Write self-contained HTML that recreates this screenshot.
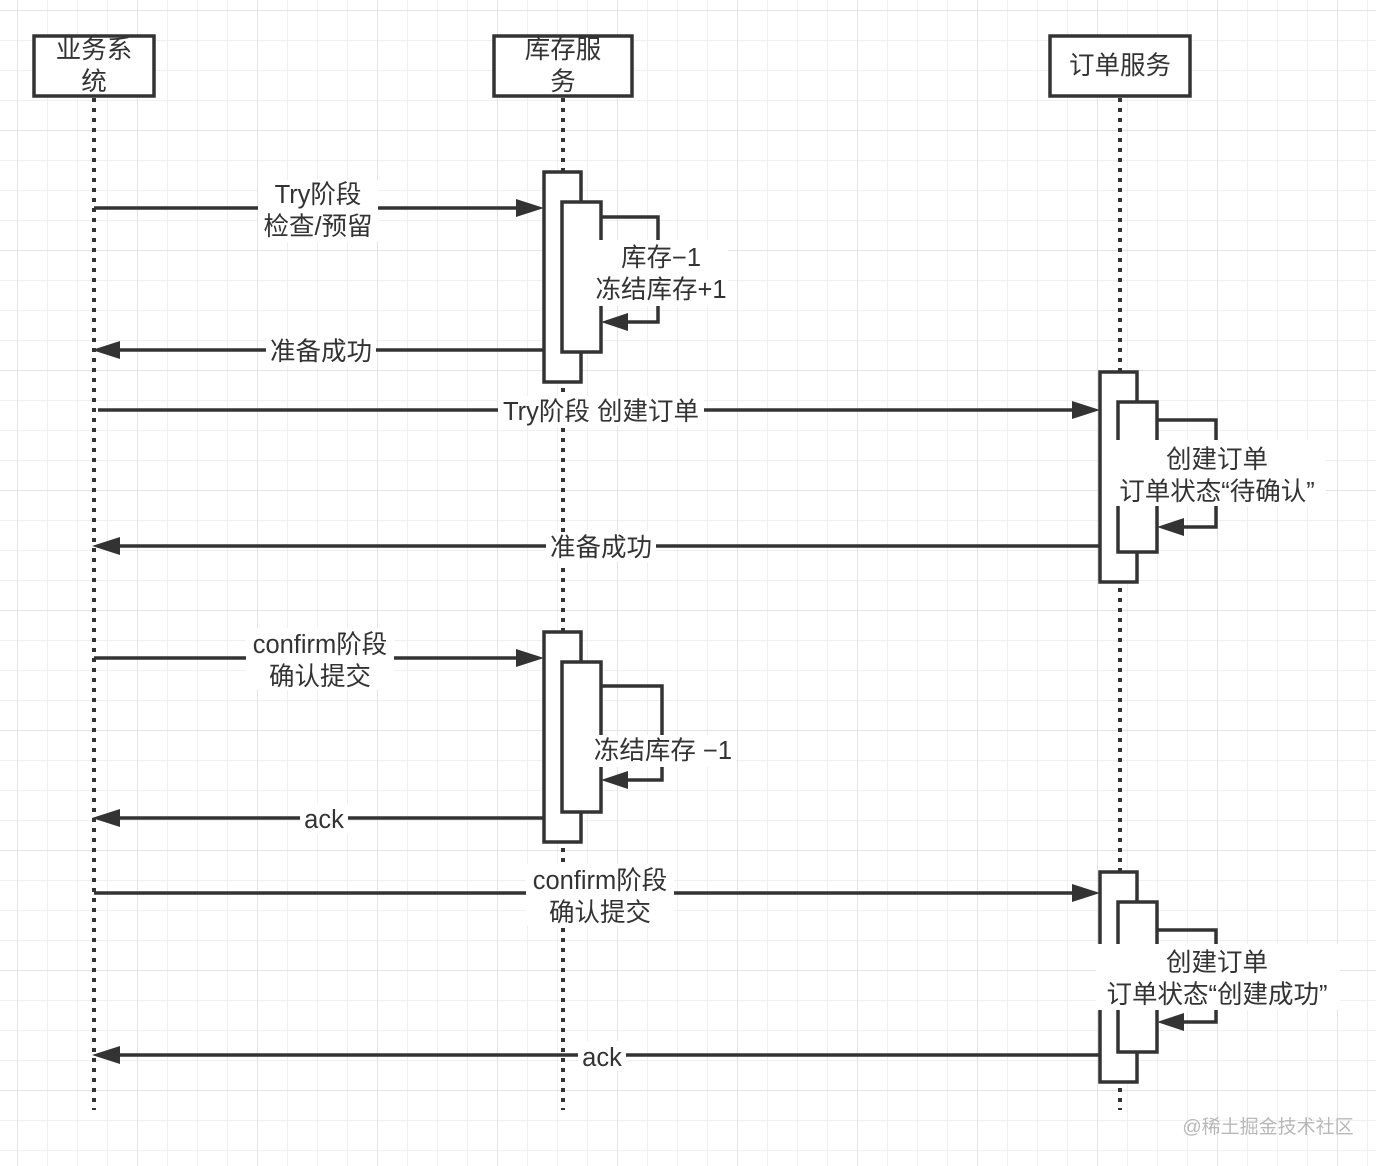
<!DOCTYPE html>
<html><head><meta charset="utf-8"><style>
html,body{margin:0;padding:0;background:#fff;}
svg{display:block;}
text{font-family:"Liberation Sans","Noto Sans CJK SC",sans-serif;font-size:25.5px;fill:#333;}
</style></head><body>
<svg width="1376" height="1166" xmlns="http://www.w3.org/2000/svg">
<defs>
<pattern id="g" x="17" y="10" width="30" height="30" patternUnits="userSpaceOnUse">
<path d="M0 0V30M0 0H30" stroke="#ececec" stroke-width="1.5" fill="none"/>
</pattern>
<pattern id="G" x="17" y="10" width="120" height="120" patternUnits="userSpaceOnUse">
<path d="M0 0V120M0 0H120" stroke="#dedede" stroke-width="1.5" fill="none"/>
</pattern>
</defs>
<rect width="1376" height="1166" fill="url(#g)"/>
<rect width="1376" height="1166" fill="url(#G)"/>

<g stroke="#333" stroke-width="4" stroke-dasharray="4 6" fill="none">
<line x1="94" y1="98" x2="94" y2="1110"/>
<line x1="563" y1="98" x2="563" y2="1110"/>
<line x1="1120" y1="98" x2="1120" y2="1110"/>
</g>

<g stroke="#333" stroke-width="3.5" fill="#fff">
<rect x="34" y="36" width="120" height="60"/>
<rect x="494" y="36" width="138" height="60"/>
<rect x="1050" y="36" width="140" height="60"/>
</g>
<text x="94" y="58" text-anchor="middle">业务系</text>
<text x="94" y="90" text-anchor="middle">统</text>
<text x="563" y="58" text-anchor="middle">库存服</text>
<text x="563" y="90" text-anchor="middle">务</text>
<text x="1120" y="74" text-anchor="middle">订单服务</text>

<g stroke="#333" stroke-width="3.5" fill="#fff">
<rect x="544" y="172" width="37" height="210"/>
<rect x="562" y="202" width="39" height="150"/>
<rect x="1100" y="372" width="37" height="210"/>
<rect x="1118" y="402" width="39" height="150"/>
<rect x="544" y="632" width="37" height="210"/>
<rect x="562" y="662" width="39" height="150"/>
<rect x="1100" y="872" width="37" height="210"/>
<rect x="1118" y="902" width="39" height="150"/>
</g>

<g stroke="#333" stroke-width="3.5" fill="none">
<polyline points="601,217 658,217 658,322 620,322"/>
<polyline points="1157,420 1216,420 1216,527 1178,527"/>
<polyline points="601,686 662,686 662,780 622,780"/>
<polyline points="1157,930 1216,930 1216,1022 1178,1022"/>
</g>
<g fill="#333">
<polygon points="601,322 628,313 628,331"/>
<polygon points="1157,527 1184,518 1184,536"/>
<polygon points="601,780 628,771 628,789"/>
<polygon points="1157,1022 1184,1013 1184,1031"/>
</g>

<g stroke="#333" stroke-width="3.5" fill="none">
<line x1="94" y1="208" x2="520" y2="208"/>
<line x1="118" y1="350" x2="544" y2="350"/>
<line x1="98" y1="410" x2="1076" y2="410"/>
<line x1="118" y1="546" x2="1100" y2="546"/>
<line x1="94" y1="658" x2="520" y2="658"/>
<line x1="118" y1="818" x2="544" y2="818"/>
<line x1="94" y1="893" x2="1076" y2="893"/>
<line x1="118" y1="1055" x2="1100" y2="1055"/>
</g>
<g fill="#333">
<polygon points="544,208 516,199 516,217"/>
<polygon points="92,350 120,341 120,359"/>
<polygon points="1100,410 1072,401 1072,419"/>
<polygon points="92,546 120,537 120,555"/>
<polygon points="544,658 516,649 516,667"/>
<polygon points="92,818 120,809 120,827"/>
<polygon points="1100,893 1072,884 1072,902"/>
<polygon points="92,1055 120,1046 120,1064"/>
</g>

<g fill="#fff">
<rect x="258" y="180" width="120" height="62"/>
<rect x="594" y="240" width="134" height="66"/>
<rect x="266" y="336" width="110" height="30"/>
<rect x="498" y="396" width="206" height="30"/>
<rect x="1108" y="440" width="218" height="66"/>
<rect x="546" y="532" width="110" height="30"/>
<rect x="246" y="628" width="148" height="62"/>
<rect x="592" y="735" width="144" height="32"/>
<rect x="300" y="804" width="48" height="30"/>
<rect x="526" y="864" width="148" height="62"/>
<rect x="1096" y="944" width="244" height="66"/>
<rect x="578" y="1041" width="48" height="30"/>
</g>
<text x="318" y="203" text-anchor="middle">Try阶段</text>
<text x="318" y="235" text-anchor="middle">检查/预留</text>
<text x="661" y="266" text-anchor="middle">库存−1</text>
<text x="661" y="298" text-anchor="middle">冻结库存+1</text>
<text x="321" y="360" text-anchor="middle">准备成功</text>
<text x="601" y="420" text-anchor="middle">Try阶段 创建订单</text>
<text x="1217" y="468" text-anchor="middle">创建订单</text>
<text x="1217" y="500" text-anchor="middle">订单状态“待确认”</text>
<text x="601" y="556" text-anchor="middle">准备成功</text>
<text x="320" y="653" text-anchor="middle">confirm阶段</text>
<text x="320" y="685" text-anchor="middle">确认提交</text>
<text x="663" y="759" text-anchor="middle">冻结库存 −1</text>
<text x="324" y="828" text-anchor="middle">ack</text>
<text x="600" y="889" text-anchor="middle">confirm阶段</text>
<text x="600" y="921" text-anchor="middle">确认提交</text>
<text x="1217" y="971" text-anchor="middle">创建订单</text>
<text x="1217" y="1003" text-anchor="middle">订单状态“创建成功”</text>
<text x="602" y="1066" text-anchor="middle">ack</text>

<text x="1268" y="1133" text-anchor="middle" style="font-size:19px;fill:#b8b8b8">@稀土掘金技术社区</text>
</svg>
</body></html>
